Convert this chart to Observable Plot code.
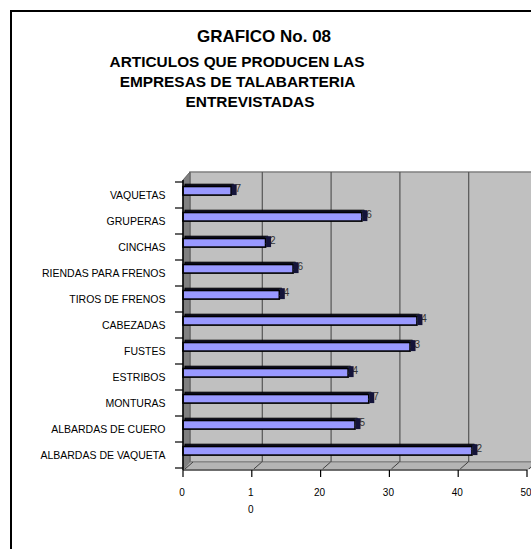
<!DOCTYPE html>
<html><head><meta charset="utf-8">
<script src="https://cdn.jsdelivr.net/npm/d3@7"></script>
<script src="https://cdn.jsdelivr.net/npm/@observablehq/plot@0.6"></script>
<style>
body{margin:0;background:#fff;}
#page{position:relative;width:531px;height:549px;overflow:hidden;background:#fff;font-family:"Liberation Sans",Arial,sans-serif;}
#border{position:absolute;left:10px;top:10px;width:700px;height:700px;border-left:2.5px solid #000;border-top:2.5px solid #000;}
#head{position:relative;height:160px;}
.t{position:absolute;width:531px;text-align:center;font-weight:bold;white-space:nowrap;color:#000;}
#t0{left:-1.5px;top:27.6px;font-size:17px;line-height:17px;}
.s{font-size:15.4px;line-height:15.4px;}
#t1{left:-28.5px;top:53.8px;}
#t2{left:-28px;top:73.8px;}
#t3{left:-15.5px;top:93.8px;}
#chart{position:relative;}
</style></head><body>
<div id="page">
  <div id="border"></div>
  <div id="head">
    <div class="t" id="t0">GRAFICO No. 08</div>
    <div class="t s" id="t1">ARTICULOS QUE PRODUCEN LAS</div>
    <div class="t s" id="t2">EMPRESAS DE TALABARTERIA</div>
    <div class="t s" id="t3">ENTREVISTADAS</div>
  </div>
  <div id="chart"></div>
</div>
<script>
const categories = ["VAQUETAS","GRUPERAS","CINCHAS","RIENDAS PARA FRENOS","TIROS DE FRENOS","CABEZADAS","FUSTES","ESTRIBOS","MONTURAS","ALBARDAS DE CUERO","ALBARDAS DE VAQUETA"];
const values = [7,26,12,16,14,34,33,24,27,25,42];
const xTicks = [0,10,20,30,40,50];
const xTickLabels = ["0","1\n0","20","30","40","50"];
const gridValues = [10,20,30,40];

const data = categories.map((c,i)=>({name:c, value:values[i]}));
const DX = 7, DY = 8, GDX = 10;

function deco(index, scales, vals, dims) {
  const {x} = scales;
  const L = x(xTicks[0]), R = x(xTicks[xTicks.length-1]);
  const T = dims.marginTop, B = dims.height - dims.marginBottom;
  const g = d3.create("svg:g");
  g.append("rect").attr("x", L+DX).attr("y", T-DY).attr("width", R-L+30).attr("height", B-T)
    .attr("fill","#c0c0c0").attr("stroke","#808080").attr("stroke-width",1.5);
  g.append("path").attr("d", `M${L},${T}L${L+DX},${T-DY}L${L+DX},${B-DY}L${L},${B}Z`)
    .attr("fill","#808080").attr("stroke","#606060");
  g.append("path").attr("d", `M${L},${B}L${L+DX},${B-DY}L${R+GDX},${B-DY}L${R},${B}Z`)
    .attr("fill","#b4b4b4").attr("stroke","#808080");
  return g.node();
}

function axes(index, scales, vals, dims) {
  const {x, y} = scales;
  const L = x(xTicks[0]), R = x(xTicks[xTicks.length-1]);
  const T = dims.marginTop, B = dims.height - dims.marginBottom;
  const g = d3.create("svg:g");
  for (const v of xTicks) {
    g.append("line").attr("x1", x(v)+2).attr("x2", x(v)+GDX).attr("y1", B-1).attr("y2", B-DY)
      .attr("stroke","#404040");
  }
  g.append("line").attr("x1", L).attr("x2", R).attr("y1", B).attr("y2", B).attr("stroke","#555").attr("stroke-width",1.5);
  g.append("line").attr("x1", L).attr("x2", L).attr("y1", T).attr("y2", B).attr("stroke","#000").attr("stroke-width",1.5);
  for (const v of xTicks) {
    g.append("line").attr("x1", x(v)).attr("x2", x(v)).attr("y1", B).attr("y2", B+7).attr("stroke","#000").attr("stroke-width",1.2);
  }
  const bw = y.bandwidth();
  const edges = categories.map(c => y(c)).concat([y(categories[categories.length-1]) + bw]);
  for (const e of edges) {
    g.append("line").attr("x1", L-8).attr("x2", L).attr("y1", e).attr("y2", e).attr("stroke","#000").attr("stroke-width",1.2);
  }
  return g.node();
}

const chart = Plot.plot({
  width: 531,
  height: 389,
  marginTop: 20,
  marginBottom: 79,
  marginLeft: 183,
  marginRight: 4,
  style: {fontFamily: "'Liberation Sans', Arial, sans-serif", fontSize: "10.5px", background: "transparent", color: "#000"},
  x: {domain: [0, 50], axis: null},
  y: {domain: categories, padding: 0, label: null, tickSize: 0, tickPadding: 18},
  marks: [
    deco,
    Plot.ruleX(gridValues, {dx: GDX, dy: -DY, stroke: "#555", strokeWidth: 1.2}),
    Plot.barX(data, {x: "value", y: "name", insetTop: 2.2, insetBottom: 21.9, dx: 2, fill: "#18183c", stroke: "#000", strokeWidth: 1}),
    Plot.barX(data, {x: "value", y: "name", insetTop: 4.5, insetBottom: 12.9, fill: "#9999ff", stroke: "#000", strokeWidth: 1.6}),
    Plot.text(data, {x: "value", y: "name", text: d => String(d.value), textAnchor: "end", dx: 9.5, dy: -6.5, fontSize: 10, fill: "#333"}),
    Plot.tickX(data, {x: "value", y: "name", dx: 2.5, insetTop: 2.2, insetBottom: 12.9, stroke: "#14143a", strokeWidth: 5}),
    axes,
    Plot.text(xTicks, {x: d => d, text: xTickLabels, frameAnchor: "bottom", lineAnchor: "top", dx: -1.5, dy: 13, lineHeight: 1.75, fontSize: 10, fill: "#000"})
  ]
});
document.getElementById("chart").appendChild(chart);
</script>
</body></html>
